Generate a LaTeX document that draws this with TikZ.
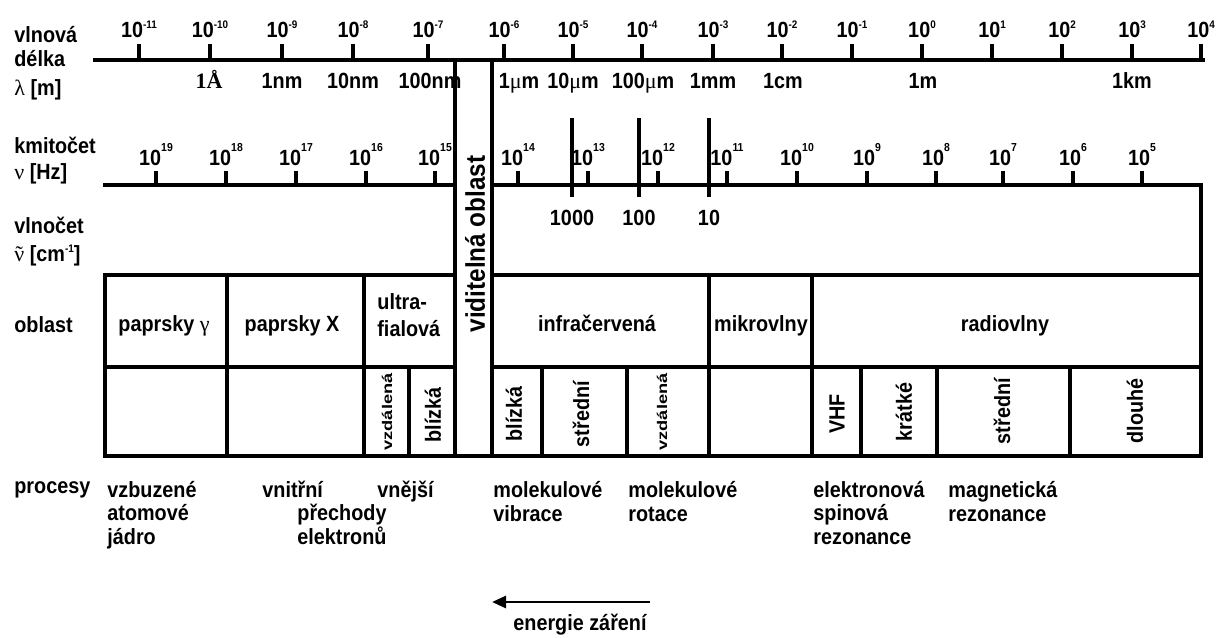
\documentclass[tikz,border=0pt]{standalone}
\usepackage{graphicx}
\usepackage{fontspec}
\setmainfont{Liberation Sans}[FakeStretch=0.9]
\newfontfamily\grk{Liberation Serif}
\usetikzlibrary{arrows.meta}

% powers of ten on the two scales
\newcommand\wpow[1]{10\raisebox{4.3pt}{\fontsize{5.5}{5.5}\selectfont #1}}
\newcommand\fpow[1]{10\raisebox{6.6pt}{\fontsize{5.8}{5.8}\selectfont #1}}
\newcommand\nutilde{{\grk\mdseries\ooalign{ν\cr\hidewidth˜\hidewidth\cr}}}

\begin{document}
\begin{tikzpicture}[x=0.5pt, y=-0.5pt,
    every node/.style={font=\fontsize{11}{13.5}\selectfont\bfseries, inner sep=0pt},
    heavy/.style={line width=2pt, line cap=rect},
    rowlab/.style={anchor=base west},
    scalelab/.style={anchor=base},
    cell/.style={anchor=base},
    side/.style={rotate=90},
    tiny/.style={font=\fontsize{7}{8}\selectfont\bfseries},
    proc/.style={anchor=base west, align=left, font=\fontsize{11}{11.7}\selectfont\bfseries}]
    \useasboundingbox (0,0) rectangle (1220,637);

    % row titles
    \node[rowlab] (vln1) at (14,42) {vlnová};
    \node[rowlab] (vln2) at (14,66) {délka};
    \node[rowlab] (vln3) at (14,95) {{\grk\mdseries λ} [m]};
    \node[rowlab] (kmi1) at (14,153) {kmitočet};
    \node[rowlab] (kmi2) at (14,179) {{\grk\mdseries ν} [Hz]};
    \node[rowlab] (vlc1) at (14,233) {vlnočet};
    \node[rowlab] (vlc2) at (14,261) {\nutilde\ [cm\raisebox{4.3pt}{\fontsize{5.5}{5.5}\selectfont -1}]};
    \node[rowlab] (obl) at (14,332) {oblast};
    \node[rowlab] (pro) at (14,493) {procesy};

    % wavelength scale
    \draw[heavy] (95,60) -- (1203,60);
    \foreach \x/\e in {139/-11, 210/-10, 282/-9, 353/-8, 428/-7, 504/-6, 573/-5, 642/-4,
                       713/-3, 782/-2, 852/-1, 922/0, 992/1, 1062/2, 1132/3, 1201/4} {
      \draw[heavy] (\x,46) -- (\x,60);
      \node[scalelab] (w\x) at (\x,37) {\wpow{\e}};
    }
    \foreach \x/\t in {209/{\grk 1Å}, 282/1nm, 353/10nm, 430/100nm, 519/1{\grk\mdseries μ}m,
                       573/10{\grk\mdseries μ}m, 643/100{\grk\mdseries μ}m, 713/1mm, 783/1cm,
                       923/1m, 1132/1km}
      \node[scalelab] (u\x) at (\x,88) {\t};

    % frequency scale
    \draw[heavy] (105,185) -- (455,185) (492,185) -- (1201,185);
    \foreach \x/\e in {156/19, 226/18, 296/17, 366/16, 435/15, 518/14, 588/13, 658/12,
                       727/11, 797/10, 867/9, 936/8, 1003/7, 1073/6, 1142/5} {
      \draw[heavy] (\x,173) -- (\x,185);
      \node[scalelab] (f\x) at (\x,165) {\fpow{\e}};
    }

    % wavenumber marks
    \foreach \x/\t in {572/1000, 639/100, 709/10} {
      \draw[heavy] (\x,120) -- (\x,195);
      \node[scalelab] (n\x) at (\x,225) {\t};
    }

    % visible band
    \draw[heavy] (455,60) -- (455,456) (492,60) -- (492,456);
    \node[side, font=\fontsize{13.5}{15}\selectfont\bfseries] (vis) at (475,244) {viditelná oblast};

    % table of regions
    \draw[heavy] (105,275) -- (455,275) (492,275) -- (1201,275);
    \draw[heavy] (105,367) -- (455,367) (492,367) -- (1201,367);
    \draw[heavy] (105,275) -- (105,456) -- (1201,456) -- (1201,185);
    \foreach \x in {227,364,709,812}
      \draw[heavy] (\x,275) -- (\x,456);
    \foreach \x in {409,542,627,861,937,1070}
      \draw[heavy] (\x,367) -- (\x,456);

    \node[cell] (gam) at (164,331) {paprsky {\grk\mdseries γ}};
    \node[cell] (rtg) at (292,331) {paprsky X};
    \node[anchor=base west, align=left] (uv) at (377,336) {ultra-\\fialová};
    \node[cell] (ir) at (597,331) {infračervená};
    \node[cell] (mw) at (761,331) {mikrovlny};
    \node[cell] (rad) at (1005,331) {radiovlny};

    \node[side, tiny] (uvfar) at (387,412) {\scalebox{1.45}[1]{vzdálená}};
    \node[side] (uvnear) at (433,415) {blízká};
    \node[side] (irnear) at (514,414) {blízká};
    \node[side] (irmid) at (581,414) {střední};
    \node[side, tiny] (irfar) at (662,412) {\scalebox{1.45}[1]{vzdálená}};
    \node[side] (vhf) at (837,414) {VHF};
    \node[side] (kra) at (904,412) {krátké};
    \node[side] (str) at (1002,411) {střední};
    \node[side] (dlo) at (1135,411) {dlouhé};

    % processes
    \node[proc] (p1) at (107,544) {vzbuzené\\atomové\\jádro};
    \node[proc] (p2) at (262,497) {vnitřní};
    \node[proc] (p3) at (377,497) {vnější};
    \node[proc] (p4) at (297,544) {přechody\\elektronů};
    \node[proc] (p5) at (493,521) {molekulové\\vibrace};
    \node[proc] (p6) at (628,521) {molekulové\\rotace};
    \node[proc] (p7) at (813,544) {elektronová\\spinová\\rezonance};
    \node[proc] (p8) at (948,521) {magnetická\\rezonance};

    % energy arrow
    \coordinate (arrR) at (650,602);
    \coordinate (arrL) at (492,602);
    \draw[line width=1.4pt, -{Triangle[length=7pt, width=6pt]}] (arrR) -- (arrL);
    \node[scalelab] (en) at (580,630) {energie záření};
\end{tikzpicture}
\end{document}
